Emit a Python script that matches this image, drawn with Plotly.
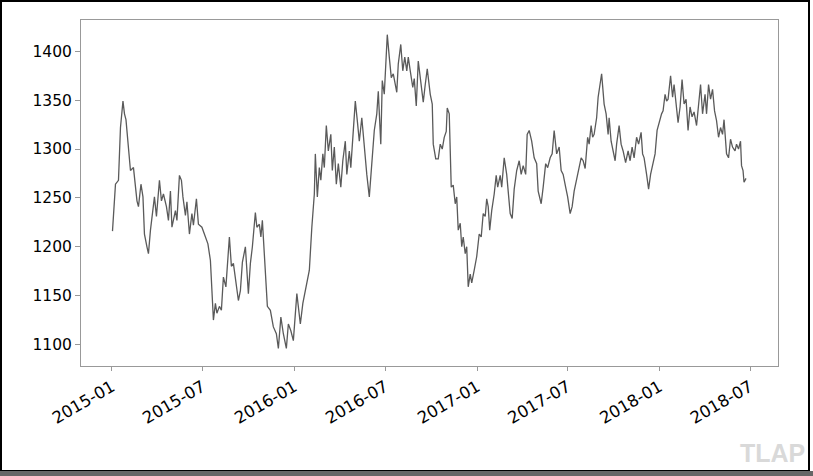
import pandas as pd
import plotly.graph_objects as go

# Days since 2015-01-01 and price
days_2015 = [1,3,7,13,17,22,25,28,33,37,43,50,53,58,62,65,70,73,77,80,85,89,95,99,103,109,113,117,120,127,130,135,139,142,147,150,155,160,163,169,173,180,187,192,197,200,203,207,210,215,219,223,228,235,239,243,248,253,257,261,267,270,273,277,281,287,290,295,298,301,307,311]
price_2015 = [1216,1235,1264,1268,1322,1349,1336,1330,1302,1278,1281,1247,1241,1264,1251,1213,1200,1193,1217,1232,1251,1231,1268,1247,1254,1241,1227,1257,1220,1237,1227,1273,1268,1251,1232,1246,1213,1234,1222,1249,1223,1220,1210,1203,1186,1159,1125,1142,1132,1139,1135,1169,1159,1210,1180,1183,1166,1145,1155,1184,1200,1180,1152,1183,1200,1235,1220,1223,1210,1227,1180,1139]

days_2016 = [317,323,329,333,338,343,349,353,358,363,370,377,382,389,395,400,405,407,411,415,418,422,425,429,433,438,441,445,449,453,458,462,467,470,475,478,482,487,491,495,500,505,510,515,520,525,530,533,538,541,545,549,551,555,559,563,567,570,573,578,582,586,590,593,597,602,605,609,613,618,623,627,631,637,641,643,648,653]
price_2016 = [1135,1118,1111,1096,1128,1111,1096,1121,1114,1104,1152,1121,1142,1159,1176,1220,1254,1295,1251,1281,1268,1295,1281,1324,1298,1315,1278,1302,1264,1285,1261,1288,1308,1274,1298,1281,1315,1349,1329,1308,1332,1298,1274,1251,1281,1319,1336,1359,1305,1370,1356,1390,1417,1394,1373,1377,1366,1358,1387,1407,1380,1394,1380,1394,1380,1363,1372,1344,1390,1366,1348,1366,1382,1356,1346,1305,1290,1290]

days_2017 = [657,661,665,669,671,675,679,683,687,690,693,697,700,703,707,710,713,717,720,725,730,735,739,743,747,750,753,756,760,765,769,772,777,780,785,790,793,797,801,805,810,815,819,823,828,831,835,840,845,850,853,859,863,868,872,877,881,885,890,895,899,903,908,912,917,921,925,930,935,939,943,947,952,955,959,962,965,970,973]
price_2017 = [1305,1300,1312,1318,1342,1336,1261,1263,1244,1251,1217,1224,1200,1210,1193,1200,1159,1172,1163,1176,1190,1213,1210,1234,1231,1249,1241,1217,1237,1254,1273,1261,1273,1261,1291,1274,1254,1234,1229,1259,1278,1288,1274,1283,1274,1315,1319,1308,1291,1285,1257,1244,1261,1285,1281,1291,1295,1319,1295,1302,1278,1274,1261,1251,1234,1241,1257,1268,1281,1291,1288,1280,1312,1305,1324,1312,1315,1332,1353]

days_2018 = [980,985,989,993,995,999,1003,1007,1010,1015,1019,1023,1028,1033,1037,1041,1045,1050,1054,1059,1062,1065,1070,1074,1078,1082,1087,1091,1095,1100,1103,1107,1110,1113,1118,1122,1125,1129,1133,1137,1141,1145,1149,1153,1157,1161,1165,1170,1174,1178,1182,1187,1190,1194,1198,1202,1206,1210,1214,1218,1222,1225,1230,1234,1238,1242,1247,1250,1254,1258,1260,1263,1265,1269]
price_2018 = [1377,1346,1336,1315,1332,1308,1298,1288,1305,1324,1305,1298,1286,1298,1288,1302,1291,1312,1305,1317,1295,1291,1274,1259,1274,1283,1295,1319,1327,1336,1339,1356,1349,1351,1375,1353,1366,1349,1327,1343,1371,1346,1351,1319,1343,1333,1338,1324,1349,1366,1336,1356,1336,1366,1351,1361,1339,1329,1312,1322,1315,1330,1295,1291,1310,1302,1298,1305,1300,1308,1283,1278,1266,1270]

tick_vals = ["2015-01-01","2015-07-01","2016-01-01","2016-07-01","2017-01-01","2017-07-01","2018-01-01","2018-07-01"]
tick_text = ["2015-01","2015-07","2016-01","2016-07","2017-01","2017-07","2018-01","2018-07"]
y_ticks = [1100,1150,1200,1250,1300,1350,1400]

days = days_2015 + days_2016 + days_2017 + days_2018
price = price_2015 + price_2016 + price_2017 + price_2018
dates = pd.Timestamp("2015-01-01") + pd.to_timedelta(days, unit="D")

fig = go.Figure()
fig.add_trace(go.Scatter(x=dates, y=price, mode="lines",
                         line=dict(color="#5a5a5a", width=1.3), showlegend=False))

W, H = 813, 476
L, R, T, B = 81, 778, 20, 366
fig.update_layout(
    width=W, height=H, autosize=False,
    margin=dict(l=L, r=W - R, t=T, b=H - B, pad=0),
    paper_bgcolor="white", plot_bgcolor="white",
    font=dict(family="DejaVu Sans", size=15.5, color="black"),
    xaxis=dict(range=["2014-10-31", "2018-08-26"], tickvals=tick_vals, ticktext=tick_text,
               tickangle=-30, showgrid=False, zeroline=False,
               showline=True, mirror=True, linecolor="#999999", linewidth=1,
               ticks="outside", ticklen=4, tickcolor="#999999",
               tickfont=dict(size=16.5)),
    yaxis=dict(range=[1078, 1432], tickvals=y_ticks, showgrid=False, zeroline=False,
               showline=True, mirror=True, linecolor="#999999", linewidth=1,
               ticks="outside", ticklen=5, tickcolor="#999999"),
)

def px(xp):
    return (xp - L) / (R - L)

def py(yp):
    return (B - yp) / (B - T)

# outer frame of the picture
fig.add_shape(type="rect", xref="paper", yref="paper",
              x0=px(1), x1=px(809), y0=py(471), y1=py(1),
              line=dict(color="black", width=2))
fig.add_shape(type="rect", xref="paper", yref="paper",
              x0=px(0), x1=px(813), y0=py(476), y1=py(471),
              line=dict(width=0), fillcolor="#666666")

fig.add_annotation(text="<b>TLAP</b>", xref="paper", yref="paper",
                   x=px(807), y=py(469), xanchor="right", yanchor="bottom",
                   showarrow=False,
                   font=dict(family="Liberation Sans", size=25, color="#d9d9d9"))

fig.write_html("out.html")
